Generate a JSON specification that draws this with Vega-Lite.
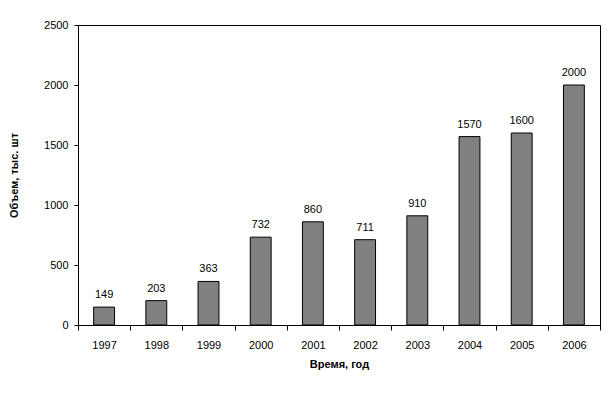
{
  "$schema": "https://vega.github.io/schema/vega-lite/v6.json",
  "width": 522,
  "height": 300,
  "autosize": "none",
  "padding": {"left": 78, "top": 25, "right": 15, "bottom": 69},
  "background": "white",
  "config": {
    "view": {"stroke": "black", "strokeWidth": 1},
    "font": "Liberation Sans",
    "axis": {"domainColor": "black", "tickColor": "black", "labelColor": "black", "titleColor": "black", "labelFont": "Liberation Sans", "titleFont": "Liberation Sans", "labelFontSize": 11, "titleFontSize": 11, "grid": false}
  },
  "data": {
    "values": [
      {"year": "1997", "value": 149},
      {"year": "1998", "value": 203},
      {"year": "1999", "value": 363},
      {"year": "2000", "value": 732},
      {"year": "2001", "value": 860},
      {"year": "2002", "value": 711},
      {"year": "2003", "value": 910},
      {"year": "2004", "value": 1570},
      {"year": "2005", "value": 1600},
      {"year": "2006", "value": 2000}
    ]
  },
  "encoding": {
    "x": {
      "field": "year", "type": "nominal",
      "scale": {"paddingInner": 0, "paddingOuter": 0},
      "axis": {"title": "Время, год", "titleFontWeight": "bold", "labelAngle": 0, "tickBand": "extent", "tickSize": 5, "labelPadding": 9, "titlePadding": 8}
    },
    "y": {
      "field": "value", "type": "quantitative",
      "scale": {"domain": [0, 2500]},
      "axis": {"title": "Объем, тыс. шт", "titleFontWeight": "bold", "values": [0, 500, 1000, 1500, 2000, 2500], "format": "d", "tickSize": 4, "labelPadding": 6, "titleX": -64, "titleBaseline": "middle"}
    }
  },
  "layer": [
    {"mark": {"type": "bar", "width": {"band": 0.4}, "color": "#808080", "stroke": "black", "strokeWidth": 1}},
    {"mark": {"type": "text", "baseline": "bottom", "dy": -7, "fontSize": 11, "font": "Liberation Sans", "color": "black"}, "encoding": {"text": {"field": "value", "type": "quantitative", "format": "d"}}}
  ]
}
